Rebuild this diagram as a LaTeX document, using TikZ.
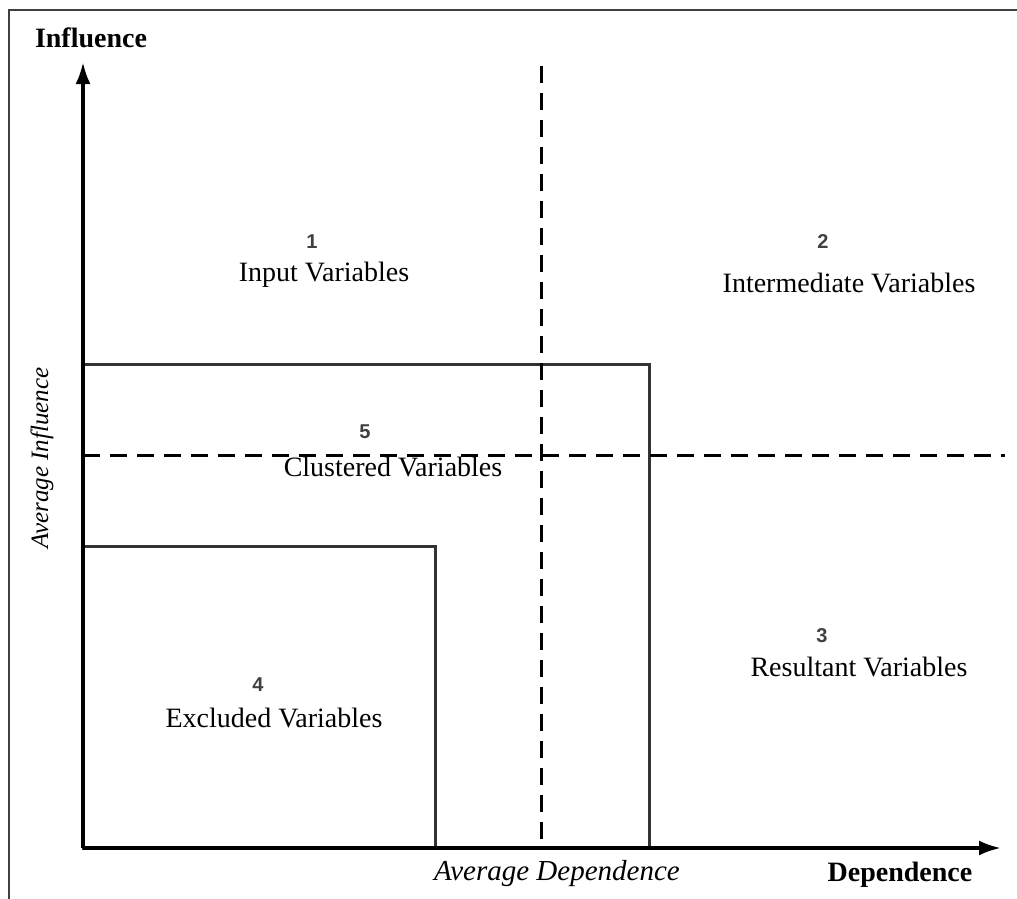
\documentclass[tikz,border=0pt]{standalone}
\usepackage{fontspec}
\setmainfont{Liberation Serif}
\setsansfont{Liberation Sans}
\usetikzlibrary{arrows.meta}
\tikzset{
  zone/.style={font=\fontsize{28}{32}\selectfont,align=center},
  num/.style={font=\sffamily\bfseries\fontsize{20}{24}\selectfont,text=black!75},
  avg/.style={line width=3pt,dash pattern=on 17pt off 10pt},
  box/.style={line width=3pt,black!80,line join=miter}
}
\begin{document}
\begin{tikzpicture}[x=1pt,y=-1pt,>={Latex[length=22pt,width=15pt]}]
\useasboundingbox(0,0)rectangle(1017,899);
\draw[line width=2.5pt,black!75](9,899)--(9,10)--(1017,10);

\coordinate(o)at(83,848);
\coordinate(ytip)at(83,62);
\coordinate(xtip)at(1001,848);

\draw[box](o)rectangle(649,364);
\draw[box](o)rectangle(435,546);
\draw[avg](541,66)--(541,848);
\draw[avg](83,455)--(1005,455);
\draw[->,line width=3.5pt](o)--(ytip);
\draw[->,line width=3.5pt](o)--(xtip);

\node(yname)[font=\bfseries\fontsize{28}{32}\selectfont]at(91,38){Influence};
\node(xname)[font=\bfseries\fontsize{28}{32}\selectfont]at(900,875){Dependence};
\node(yavg)[rotate=90,font=\itshape\fontsize{25}{30}\selectfont]at(42,458){Average Influence};
\node(xavg)[font=\itshape\fontsize{29}{32}\selectfont]at(557,874){Average Dependence};

\foreach \n/\x/\y in {1/312/242,2/823/242,5/365/432,3/822/636,4/258/685}
{\node(n\n)[num]at(\x,\y){\n};}

\node(t1)[zone]at(324,275){Input Variables};
\node(t2)[zone]at(849,283){Intermediate Variables};
\node(t5)[zone]at(393,467){Clustered Variables};
\node(t3)[zone]at(859,667){Resultant Variables};
\node(t4)[zone]at(274,718){Excluded Variables};
\end{tikzpicture}
\end{document}
